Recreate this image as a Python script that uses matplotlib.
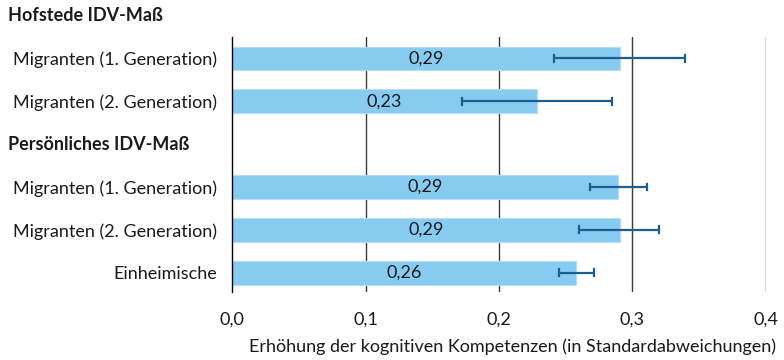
import matplotlib.pyplot as plt

plt.rcParams['font.family'] = ['Lato', 'DejaVu Sans']

# data
labels = ["Migranten (1. Generation)", "Migranten (2. Generation)", "",
          "Migranten (1. Generation)", "Migranten (2. Generation)", "Einheimische"]
values = [0.2906, 0.2285, None, 0.289, 0.2906, 0.258]
value_text = ["0,29", "0,23", "", "0,29", "0,29", "0,26"]
err_low = [0.241, 0.172, None, 0.268, 0.260, 0.245]
err_high = [0.339, 0.285, None, 0.311, 0.320, 0.271]
headers = ["Hofstede IDV-Maß", "Persönliches IDV-Maß"]
header_pos = [-1, 2]
xticks = [0.0, 0.1, 0.2, 0.3, 0.4]
xticklabels = ["0,0", "0,1", "0,2", "0,3", "0,4"]

bar_color = "#88CBF1"
err_color = "#1B5E92"
fs = 13

fig = plt.figure(figsize=(7.84, 3.6), dpi=100)
ax = fig.add_axes([0.296, 0.189, 0.681, 0.708])

idx = [i for i, v in enumerate(values) if v is not None]
ax.barh(idx, [values[i] for i in idx], height=0.56, color=bar_color,
        edgecolor="#B5DEF6", linewidth=0.8, zorder=2)
for i in idx:
    ax.plot([err_low[i], err_high[i]], [i, i], color=err_color, lw=1.6, zorder=4,
            solid_capstyle="butt")
    for xe in (err_low[i], err_high[i]):
        ax.plot([xe, xe], [i - 0.08, i + 0.08], color=err_color, lw=1.6, zorder=4)
    ax.text(values[i] / 2, i, value_text[i], ha="center", va="center",
            fontsize=fs, color="#1a1a1a", zorder=5)

ax.set_xlim(0, 0.4)
ax.set_ylim(5.45, -0.5)
ax.set_yticks(range(len(labels)))
ax.set_yticklabels(labels, fontsize=fs, color="#1a1a1a")
ax.set_xticks(xticks)
ax.set_xticklabels(xticklabels, fontsize=fs, color="#1a1a1a")
ax.tick_params(axis="y", length=0, pad=11)
ax.tick_params(axis="x", length=0, pad=14)

for x in xticks[1:]:
    ax.axvline(x, color="#3a3a3a", lw=1.0, zorder=1)
for s in ["top", "right", "bottom"]:
    ax.spines[s].set_visible(False)
ax.spines["left"].set_color("black")
ax.spines["left"].set_linewidth(1.0)

for h, p in zip(headers, header_pos):
    ax.text(8 / 784, ax.transData.transform((0, p))[1] / 360, h,
            transform=fig.transFigure, ha="left", va="center",
            fontsize=fs, fontweight="bold", color="#1a1a1a")

fig.text(776 / 784, 1 - 347 / 360, "Erhöhung der kognitiven Kompetenzen (in Standardabweichungen)",
         ha="right", va="center", fontsize=fs, color="#1a1a1a")

fig.savefig("out.png", dpi=100)
